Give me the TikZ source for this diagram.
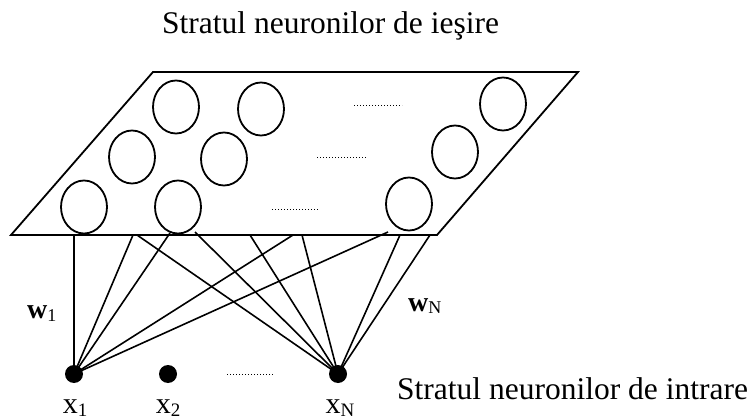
\documentclass[tikz,border=0pt]{standalone}
\usepackage{fontspec}
\setmainfont{Liberation Serif}
\usetikzlibrary{shapes.geometric}
\tikzset{
  plane/.style={draw, line width=1.8pt, line join=miter},
  neuron/.style={draw, ellipse, line width=1.8pt, minimum width=46pt, minimum height=53pt, inner sep=0pt},
  inputdot/.style={circle, fill=black, minimum size=18pt, inner sep=0pt},
  wire/.style={draw, line width=1.6pt},
  dots/.style={draw, line width=1pt, dash pattern=on 1pt off 2pt},
  bigtext/.style={font=\fontsize{31.5}{36}\selectfont, inner sep=0pt},
  lbl/.style={font=\fontsize{30}{34}\selectfont, inner sep=0pt}
}
\newcommand{\subs}[1]{\raisebox{-3pt}{\fontsize{19}{20}\selectfont #1}}
\begin{document}
\begin{tikzpicture}[x=1pt, y=-1pt]
\useasboundingbox (0,0) rectangle (754,419);
% titles
\node[bigtext, anchor=base west] (top) at (162,34) {Stratul neuronilor de ieşire};
\node[bigtext, anchor=base west] (bottom) at (397,399) {Stratul neuronilor de intrare};
% output plane
\draw[plane] (153,72) -- (578,72) -- (437,235) -- (11,235) -- cycle;
% output neurons
\node[neuron] (o1) at (176,107) {};
\node[neuron] (o2) at (261,109) {};
\node[neuron] (o3) at (132,157) {};
\node[neuron] (o4) at (224,159) {};
\node[neuron] (o5) at (84,207) {};
\node[neuron] (o6) at (178,207) {};
\node[neuron] (o7) at (503,104) {};
\node[neuron] (o8) at (455,152) {};
\node[neuron] (o9) at (409,204) {};
% dotted gaps in plane
\coordinate (d1a) at (354,106); \coordinate (d1b) at (402,106);
\coordinate (d2a) at (317,158); \coordinate (d2b) at (366,158);
\coordinate (d3a) at (272,210); \coordinate (d3b) at (319,210);
\draw[dots] (d1a) -- (d1b);
\draw[dots] (d2a) -- (d2b);
\draw[dots] (d3a) -- (d3b);
% input neurons
\node[inputdot] (x1) at (74,374) {};
\node[inputdot] (x2) at (168,374) {};
\node[inputdot] (xN) at (338,374) {};
\coordinate (d4a) at (227,374); \coordinate (d4b) at (273,374);
\draw[dots] (d4a) -- (d4b);
% wire end points on the plane
\coordinate (a1) at (74,235);
\coordinate (a2) at (133,235);
\coordinate (a3) at (137,235);
\coordinate (a4) at (170,233);
\coordinate (a5) at (195,232);
\coordinate (a6) at (250,235);
\coordinate (a7) at (293,235);
\coordinate (a8) at (302,235);
\coordinate (a9) at (388,232);
\coordinate (a10) at (400,235);
\coordinate (a11) at (430,235);
% wires to x1
\foreach \a in {a1,a2,a4,a7,a9} \draw[wire] (\a) -- (x1.center);
% wires to xN
\foreach \a in {a3,a5,a6,a8,a10,a11} \draw[wire] (\a) -- (xN.center);
% labels
\node[lbl, anchor=base] (l1) at (75,413) {x\subs{1}};
\node[lbl, anchor=base] (l2) at (168,413) {x\subs{2}};
\node[lbl, anchor=base] (lN) at (340,413) {x\subs{N}};
\node[inner sep=0pt, anchor=base west, font=\fontsize{28}{30}\selectfont] (w1) at (27,318) {\textbf{w}\raisebox{-3pt}{\fontsize{18}{20}\selectfont 1}};
\node[inner sep=0pt, anchor=base west, font=\fontsize{28}{30}\selectfont] (wN) at (408,311) {\textbf{w}\raisebox{-2pt}{\fontsize{18}{20}\selectfont N}};
\end{tikzpicture}
\end{document}
